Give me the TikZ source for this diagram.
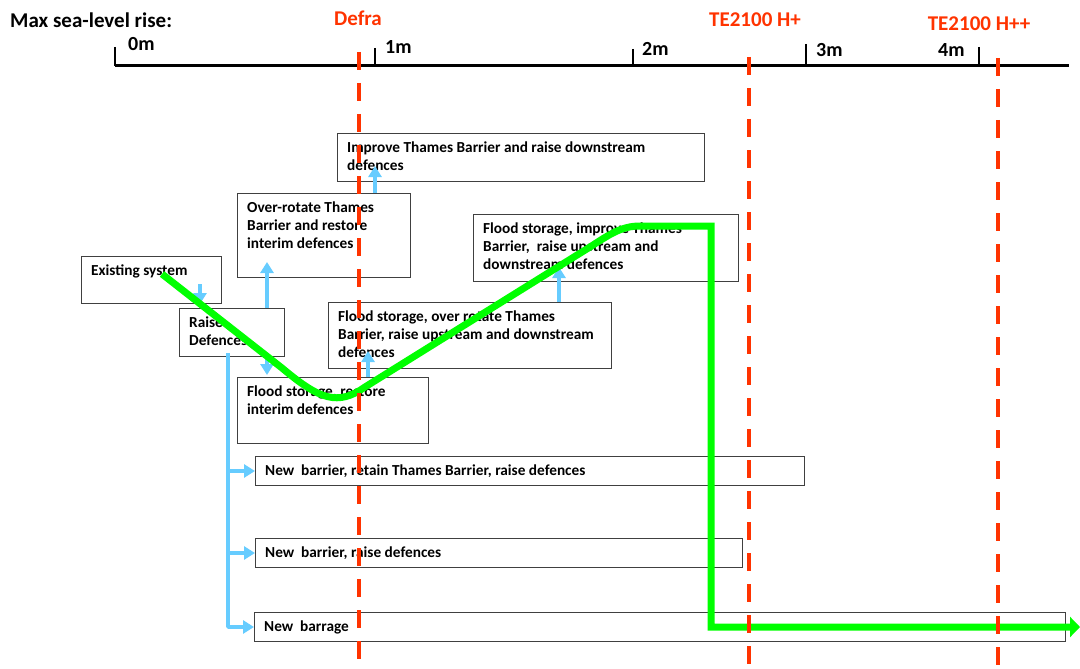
\documentclass[tikz,border=0pt]{standalone}
\usepackage{fontspec}
\setmainfont{Carlito}
\usetikzlibrary{arrows.meta}
\definecolor{sky}{RGB}{102,204,255}
\definecolor{redorange}{RGB}{255,51,0}
\definecolor{lime}{RGB}{0,255,0}
\definecolor{boxgray}{RGB}{64,64,64}
\newcommand\optbox[6]{%
  \node[obox, minimum width=#4pt, minimum height=#5pt] (#1) at (#2,#3) {};
  \node[otext] (#1-txt) at ([xshift=10pt,yshift=-6.9pt]#1.north west) {\strut#6};
}
\begin{document}
\begin{tikzpicture}[x=1pt,y=-1pt,
 obox/.style={draw=boxgray, line width=1pt, anchor=north west, inner sep=0pt},
 otext/.style={anchor=north west, inner sep=0pt, align=left, font=\fontsize{15.3pt}{18pt}\selectfont\bfseries},
 barrow/.style={draw=sky, line width=3.8pt, line join=round, -{Triangle[width=13pt,length=11pt]}},
 greenpath/.style={draw=lime, line width=7pt, line join=miter, -{Triangle[width=20pt,length=10pt]}},
 scen/.style={draw=redorange, line width=4pt, dash pattern=on 18pt off 13pt},
 scenlbl/.style={text=redorange, font=\fontsize{21pt}{25pt}\selectfont\bfseries, anchor=base, inner sep=0pt},
 ticklbl/.style={font=\fontsize{20pt}{24pt}\selectfont\bfseries, anchor=base west, inner sep=0pt},
 axisline/.style={line width=3pt},
 tickline/.style={line width=2.5pt}
]
\useasboundingbox (0,0) rectangle (1080,669);

% title and scale
\node[anchor=base west, inner sep=0pt, font=\fontsize{21pt}{25pt}\selectfont\bfseries] (title) at (10,28) {Max sea-level rise:};
\coordinate (ax0) at (115,66);
\coordinate (ax1) at (1069,66);
\draw[axisline] (ax0) -- (ax1);
\draw[tickline] (115,47) -- (115,66);
\draw[tickline] (375,48) -- (375,66);
\draw[tickline] (633,49) -- (633,66);
\draw[tickline] (806,44) -- (806,66);
\draw[tickline] (979,47) -- (979,66);
\node[ticklbl] (t0) at (128,51) {0m};
\node[ticklbl] (t1) at (385,54) {1m};
\node[ticklbl] (t2) at (642,56) {2m};
\node[ticklbl] (t3) at (816,57) {3m};
\node[ticklbl] (t4) at (938,57) {4m};

% option boxes
\optbox{es}{81}{256}{140}{47}{Existing system}
\optbox{rd}{179}{308}{105}{48}{Raise\\Defences}
\optbox{or}{237}{193}{173}{84}{Over-rotate Thames\\Barrier and restore\\interim defences}
\optbox{it}{337}{133}{367}{48}{Improve Thames Barrier and raise downstream\\defences}
\optbox{fo}{328}{302}{283}{66}{Flood storage, over rotate Thames\\Barrier, raise upstream and downstream\\defences}
\optbox{fr}{237}{377}{191}{66}{Flood storage, restore\\interim defences}
\optbox{fi}{473}{214}{265}{67}{Flood storage, improve Thames\\Barrier,~ raise upstream and\\downstream defences}
\optbox{nb1}{255}{456}{549}{29}{New~ barrier, retain Thames Barrier, raise defences}
\optbox{nb2}{255}{538}{487}{29}{New~ barrier, raise defences}
\optbox{nb3}{254}{612}{811}{29}{New~ barrage}

% blue arrows
\draw[barrow] ([xshift=119pt,yshift=20pt]es.south west) -- ([xshift=119pt]es.south west);
\draw[barrow] ([xshift=88pt]rd.north west) -- ([xshift=30pt,yshift=16pt]or.south west);
\draw[barrow] ([xshift=88pt,yshift=3pt]rd.south west) -- ([xshift=30pt,yshift=2pt]fr.north west);
\draw[barrow] ([xshift=131pt]fr.north west) -- ([xshift=40pt,yshift=18pt]fo.south west);
\draw[barrow] ([xshift=138pt]or.north west) -- ([xshift=38pt,yshift=16pt]it.south west);
\draw[barrow] ([xshift=231pt]fo.north west) -- ([xshift=86pt,yshift=15pt]fi.south west);
\coordinate (tr0) at ([xshift=49pt,yshift=4pt]rd.south west);
\draw[barrow] (tr0) -- (tr0 |- nb3.west) -- (nb3.west);
\draw[barrow] (tr0 |- nb1.west) -- (nb1.west);
\draw[barrow] (tr0 |- nb2.west) -- (nb2.west);

% preferred pathway
\coordinate (g0) at (162,274);
\coordinate (g1) at (282,368);
\coordinate (g2) at (365,387);
\coordinate (g3) at (590,247);
\coordinate (g4) at (640,226);
\coordinate (g5) at (711,226);
\coordinate (g6) at (711,627);
\coordinate (g7) at (1080,627);
\draw[greenpath] (g0) -- (g1) .. controls (320,400) and (338,406) .. (g2) -- (g3) .. controls (610,234) and (622,226) .. (g4) -- (g5) -- (g6) -- (g7);

% scenario lines
\coordinate (defT) at (359,52);
\coordinate (defB) at (359,669);
\coordinate (hpT) at (749,57);
\coordinate (hpB) at (749,669);
\coordinate (hppT) at (998,58);
\coordinate (hppB) at (998,669);
\draw[scen] (defT) -- (defB);
\draw[scen] (hpT) -- (hpB);
\draw[scen] (hppT) -- (hppB);
\node[scenlbl] (deflbl) at (358,26) {Defra};
\node[scenlbl] (hplbl) at (755,27) {TE2100 H+};
\node[scenlbl] (hpplbl) at (979,31) {TE2100 H++};
\end{tikzpicture}
\end{document}
